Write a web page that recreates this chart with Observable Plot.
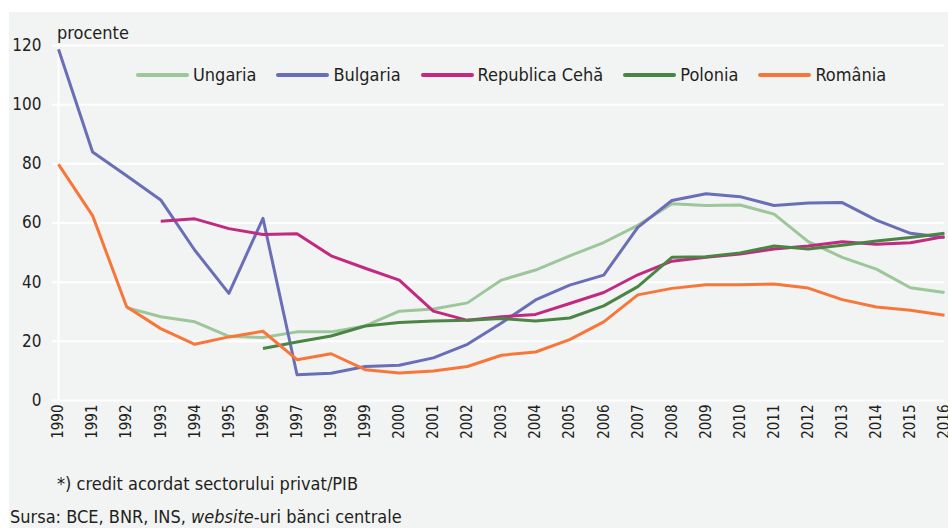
<!DOCTYPE html>
<html>
<head>
<meta charset="utf-8">
<script src="https://cdn.jsdelivr.net/npm/d3@7"></script>
<script src="https://cdn.jsdelivr.net/npm/@observablehq/plot@0.6"></script>
<style>
  html, body { margin: 0; padding: 0; background: #ffffff; }
  body { width: 948px; height: 528px; position: relative; overflow: hidden;
         font-family: "Liberation Sans Narrow", "DejaVu Sans Condensed", "Open Sans", sans-serif; color: #231f20; }
  #panel { position: absolute; left: 9px; top: 12px; width: 939px; height: 516px; background: #f2f3f3; }
  #chart { position: absolute; left: 0; top: 0; }
  #unit { position: absolute; left: 57px; top: 22px; font-size: 18px; }
  #legend { position: absolute; top: 64px; left: 136px; font-size: 18px; display: flex; align-items: center; }
  .item { display: flex; align-items: center; margin-right: 20px; }
  .sw { display: inline-block; width: 53px; height: 4px; border-radius: 2px; margin-right: 4px; }
  #note { position: absolute; left: 57px; top: 473px; font-size: 18px; }
  #src { position: absolute; left: 10px; top: 506px; font-size: 18px; }
</style>
</head>
<body>
<div id="panel"></div>
<div id="chart"></div>
<div id="unit">procente</div>
<div id="legend"></div>
<div id="note">*) credit acordat sectorului privat/PIB</div>
<div id="src">Sursa: BCE, BNR, INS, <i>website</i>-uri bănci centrale</div>
<script>
const years = d3.range(1990, 2017);
const seriesNames = ["Ungaria", "Bulgaria", "Republica Cehă", "Polonia", "România"];
const seriesColors = ["#9dc69b", "#6a6eb6", "#c12a80", "#4b8545", "#f7773a"];
const ungaria = [null, null, 31.4, 28.3, 26.6, 21.7, 21.3, 23.2, 23.2, 25.2, 30.2, 30.9, 33, 40.7, 44.1, 48.9, 53.4, 59.2, 66.5, 65.9, 66.1, 63, 53.7, 48.4, 44.4, 38.1, 36.5];
const bulgaria = [118.7, 84, 76, 67.8, 50.8, 36.2, 61.6, 8.7, 9.2, 11.5, 11.9, 14.4, 19, 26.2, 34, 39, 42.4, 58.5, 67.6, 69.9, 68.9, 65.9, 66.8, 66.9, 61, 56.5, 55.1];
const ceha = [null, null, null, 60.6, 61.4, 58.1, 56.1, 56.4, 48.9, 44.7, 40.7, 30.2, 27.1, 28.3, 29.1, 32.8, 36.5, 42.5, 47.1, 48.4, 49.5, 51.2, 52.2, 53.7, 52.8, 53.3, 55.4];
const polonia = [null, null, null, null, null, null, 17.6, 19.8, 21.8, 25.2, 26.4, 26.9, 27.1, 27.7, 26.9, 27.9, 32, 38.5, 48.4, 48.6, 49.9, 52.2, 51.2, 52.5, 53.9, 55.1, 56.5];
const romania = [79.8, 62.5, 31.7, 24.3, 19, 21.5, 23.4, 13.8, 15.8, 10.4, 9.3, 10, 11.5, 15.3, 16.4, 20.6, 26.6, 35.7, 37.9, 39.1, 39.1, 39.4, 38, 34.1, 31.6, 30.5, 28.8];
const yTicks = [0, 20, 40, 60, 80, 100, 120];

const allSeries = [ungaria, bulgaria, ceha, polonia, romania];
const data = [];
allSeries.forEach((arr, i) => {
  arr.forEach((v, j) => { if (v != null) data.push({series: seriesNames[i], year: years[j], value: v}); });
});

const chart = Plot.plot({
  width: 948,
  height: 445,
  marginLeft: 58,
  marginRight: 4,
  marginTop: 45,
  marginBottom: 45,
  style: { background: "transparent", fontFamily: "'Liberation Sans Narrow', 'DejaVu Sans Condensed', sans-serif", color: "#231f20" },
  x: { domain: [1990, 2016] },
  y: { domain: [0, 120] },
  color: { domain: seriesNames, range: seriesColors },
  marks: [
    Plot.ruleY(yTicks, { stroke: "#ffffff", strokeWidth: 2, insetLeft: -6 }),
    Plot.ruleX([1990], { stroke: "#ffffff", strokeWidth: 2 }),
    Plot.axisY({ ticks: yTicks, tickSize: 0, tickPadding: 17, fontSize: 17, label: null }),
    Plot.axisX({ ticks: years, tickFormat: "d", tickSize: 0, tickRotate: -90, tickPadding: 4, fontSize: 15, label: null }),
    Plot.line(data, { x: "year", y: "value", z: "series", stroke: "series", strokeWidth: 3, strokeLinejoin: "round", strokeLinecap: "butt" })
  ]
});
document.getElementById("chart").appendChild(chart);

const legend = document.getElementById("legend");
seriesNames.forEach((name, i) => {
  const item = document.createElement("div");
  item.className = "item";
  const sw = document.createElement("span");
  sw.className = "sw";
  sw.style.background = seriesColors[i];
  const t = document.createElement("span");
  t.textContent = name;
  item.appendChild(sw);
  item.appendChild(t);
  legend.appendChild(item);
});
</script>
</body>
</html>
